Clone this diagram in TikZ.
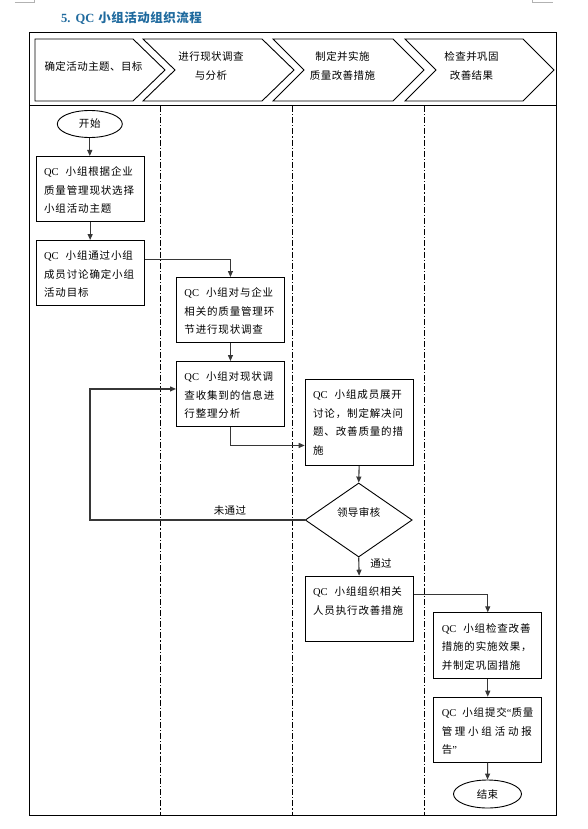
\documentclass[tikz,border=0pt]{standalone}
\usepackage{fontspec}
\setmainfont{Liberation Serif}
\newfontfamily\cjk[LetterSpace=8]{Noto Sans CJK SC}
\newfontfamily\cjkh[LetterSpace=4]{Noto Sans CJK SC}
\usetikzlibrary{arrows.meta,shapes.geometric,calc}
\definecolor{titleblue}{RGB}{31,106,158}
\definecolor{conn}{RGB}{55,55,55}
\newcommand{\QC}{{\rmfamily QC}\hspace{7pt}}
\newcommand{\bt}[2]{\begin{minipage}[c][#1][t]{92pt}\raggedright\rule{0pt}{19.5pt}#2\end{minipage}}
\tikzset{
  box/.style={draw=black, line width=0.9pt, fill=white, inner xsep=8pt, inner ysep=0pt, anchor=north west},
  chev/.style={draw=black, line width=0.9pt, fill=white, line join=miter},
  arr/.style={draw=conn, line width=1.1pt, -{Triangle[length=6pt,width=5pt]}},
  lane/.style={draw=black, line width=0.8pt, dash pattern=on 6pt off 2pt on 1.2pt off 2pt},
  oval/.style={draw=black, line width=0.9pt, ellipse, fill=white, inner sep=0pt},
  txt/.style={inner sep=0pt},
  htxt/.style={inner sep=0pt, align=center, font=\cjkh\fontsize{10.5}{18.5}\selectfont},
}
\begin{document}
\begin{tikzpicture}[x=1pt,y=-1pt, font=\cjk\fontsize{10.5}{18.5}\selectfont]
\useasboundingbox (0,0) rectangle (588,829);
\fill[white] (0,0) rectangle (588,829);
% corner marks
\draw[gray!60, line width=0.6pt] (14.8,2.6) -- (34.6,2.6) -- (34.6,0);
\draw[gray!60, line width=0.6pt] (532.7,0) -- (532.7,2.6) -- (552.6,2.6);
% title
\node[txt, anchor=west, text=titleblue, font=\cjkh\fontsize{12.5}{14}\selectfont\bfseries] (title) at (61,18)
  {{\rmfamily\bfseries 5.\hspace{5pt}QC}\hspace{4pt}小组活动组织流程};
% frame
\draw[line width=1pt] (29,33) rectangle (556.5,815);
\draw[line width=1pt] (29,106) -- (556.5,106);
% lanes
\draw[lane] (160.2,106) -- (160.2,815);
\draw[lane] (292.1,106) -- (292.1,815);
\draw[lane] (424.4,106) -- (424.4,815);
% header chevrons
\draw[chev] (35,39) -- (133,39) -- (165,70) -- (133,101) -- (35,101) -- cycle;
\draw[chev] (143,39) -- (262,39) -- (294,70) -- (262,101) -- (143,101) -- (175,70) -- cycle;
\draw[chev] (273,39) -- (393,39) -- (424,70) -- (393,101) -- (273,101) -- (304,70) -- cycle;
\draw[chev] (405,39) -- (523,39) -- (554,70) -- (523,101) -- (405,101) -- (436,70) -- cycle;
\node[htxt] (h1) at (93.5,66) {确定活动主题、目标};
\node[htxt] (h2) at (211,66) {进行现状调查\\与分析};
\node[htxt] (h3) at (342.5,66) {制定并实施\\质量改善措施};
\node[htxt] (h4) at (471.5,66) {检查并巩固\\改善结果};
% nodes
\node[oval, minimum width=65pt, minimum height=27pt] (start) at (89.8,124) {开始};
\node[box] (b1) at (35.7,156) {\bt{65pt}{\QC 小组根据企业\\质量管理现状选择\\小组活动主题}};
\node[box] (b2) at (35.7,240) {\bt{65pt}{\QC 小组通过小组\\成员讨论确定小组\\活动目标}};
\node[box] (b3) at (176,277) {\bt{65pt}{\QC 小组对与企业\\相关的质量管理环\\节进行现状调查}};
\node[box] (b4) at (176,361) {\bt{65pt}{\QC 小组对现状调\\查收集到的信息进\\行整理分析}};
\node[box] (b5) at (304.7,379) {\bt{86pt}{\QC 小组成员展开\\讨论，制定解决问\\题、改善质量的措\\施}};
\node[draw=black, line width=0.9pt, diamond, fill=white, minimum width=107pt, minimum height=74pt, inner sep=0pt] (dia) at (358.7,520) {};
\node[txt, font=\cjkh\fontsize{10.5}{18.5}\selectfont] (diat) at (358.7,512) {领导审核};
\node[box] (b6) at (304.7,575.7) {\bt{65pt}{\QC 小组组织相关\\人员执行改善措施}};
\node[box] (b7) at (433.3,612.3) {\bt{66pt}{\QC 小组检查改善\\措施的实施效果，\\并制定巩固措施}};
\node[box] (b8) at (433.3,696.7) {\bt{65pt}{\makebox[92pt][l]{{\rmfamily QC}\hspace{6pt}小组提交{\rmfamily“}质量}\\\makebox[90pt][s]{管 理 小 组 活 动 报}\\告{\rmfamily”}}};
\node[oval, minimum width=68pt, minimum height=28pt, font=\cjkh\fontsize{10.5}{18.5}\selectfont] (end) at (487.5,794) {结束};
\coordinate (lp) at (90,0);
% connectors
\draw[arr] (start.south) -- (start.south |- b1.north);
\draw[arr] (b1) -- (b2);
\draw[arr] ([yshift=13.5pt]b2.east) -| (b3.north);
\draw[arr] (b3) -- (b4);
\draw[arr] (b4.south) |- ([yshift=-23pt]b5.west);
\draw[arr] (b5.south) -- (dia.north);
\draw[arr] (dia.south) -- (b6.north);
\node[txt, font=\cjkh\fontsize{10.5}{18.5}\selectfont] (pass) at (381,563) {通过};
\draw[arr] (dia.west) -- (dia.west -| lp) |- ([yshift=5pt]b4.west);
\node[txt, font=\cjkh\fontsize{10.5}{18.5}\selectfont] (fail) at (230,511) {未通过};
\draw[arr] ([yshift=14pt]b6.east) -| (b7.north);
\draw[arr] (b7) -- (b8);
\draw[arr] (b8) -- (end);
\end{tikzpicture}
\end{document}
